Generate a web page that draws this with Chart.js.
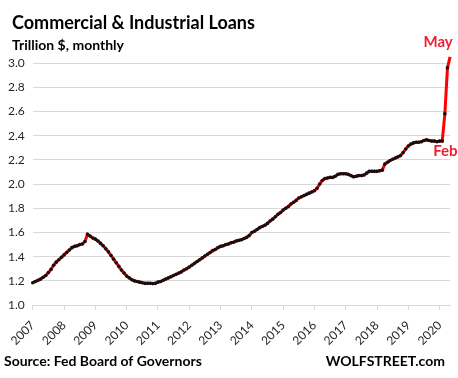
<!DOCTYPE html>
<html>
<head>
<meta charset="utf-8">
<script src="https://cdn.jsdelivr.net/npm/chart.js@4/dist/chart.umd.min.js"></script>
<style>
  html, body { margin: 0; padding: 0; background: #fff; }
  #wrap { width: 458px; height: 378px; position: relative; }
</style>
</head>
<body>
<div id="wrap"><canvas id="chart"></canvas></div>
<script>
"use strict";

// monthly, Jan 2007 .. May 2020
const YEARS = [2007, 2008, 2009, 2010, 2011, 2012, 2013, 2014, 2015, 2016, 2017, 2018, 2019, 2020];
const LAST_YEAR_MONTHS = 5;

// Trillion $
const LOANS = [
  // 2007
  1.185, 1.195, 1.205, 1.215, 1.23, 1.245, 1.27, 1.295, 1.33, 1.355, 1.375, 1.395,
  // 2008
  1.415, 1.435, 1.455, 1.475, 1.485, 1.49, 1.5, 1.505, 1.525, 1.585, 1.57, 1.555,
  // 2009
  1.545, 1.53, 1.51, 1.49, 1.465, 1.44, 1.41, 1.38, 1.35, 1.32, 1.29, 1.265,
  // 2010
  1.24, 1.225, 1.21, 1.2, 1.195, 1.19, 1.185, 1.18, 1.18, 1.18, 1.178, 1.18,
  // 2011
  1.19, 1.195, 1.205, 1.215, 1.225, 1.235, 1.245, 1.255, 1.265, 1.275, 1.29, 1.3,
  // 2012
  1.315, 1.33, 1.345, 1.36, 1.375, 1.39, 1.405, 1.42, 1.435, 1.45, 1.46, 1.475,
  // 2013
  1.485, 1.49, 1.5, 1.505, 1.515, 1.52, 1.53, 1.535, 1.54, 1.55, 1.56, 1.575,
  // 2014
  1.6, 1.61, 1.625, 1.64, 1.65, 1.66, 1.675, 1.695, 1.71, 1.73, 1.75, 1.765,
  // 2015
  1.785, 1.8, 1.815, 1.835, 1.85, 1.865, 1.885, 1.895, 1.905, 1.915, 1.925, 1.935,
  // 2016
  1.945, 1.965, 2.0, 2.03, 2.045, 2.05, 2.055, 2.055, 2.065, 2.08, 2.085, 2.085,
  // 2017
  2.085, 2.08, 2.07, 2.06, 2.065, 2.07, 2.07, 2.075, 2.09, 2.105, 2.105, 2.105,
  // 2018
  2.105, 2.11, 2.115, 2.165, 2.18, 2.195, 2.205, 2.215, 2.225, 2.235, 2.26, 2.29,
  // 2019
  2.315, 2.33, 2.34, 2.345, 2.345, 2.35, 2.36, 2.365, 2.36, 2.355, 2.355, 2.35,
  // 2020
  2.355, 2.355, 2.58, 2.96, 3.05,
];

const Y_TICKS = [1.0, 1.2, 1.4, 1.6, 1.8, 2.0, 2.2, 2.4, 2.6, 2.8, 3.0];

const TITLE = "Commercial & Industrial Loans";
const SUBTITLE = "Trillion $, monthly";
const SOURCE = "Source: Fed Board of Governors";
const BRAND = "WOLFSTREET.com";
const NOTE_FEB = { label: "Feb", index: 157 };
const NOTE_MAY = { label: "May", index: 160 };

const FONT = "Lato, 'Open Sans', sans-serif";
const RED = "#ff0000";
const NOTE_RED = "#f01e32";
const GRID = "#d9d9d9";
const INK = "#262626";

const monthLabels = [];
YEARS.forEach((y, yi) => {
  const n = yi === YEARS.length - 1 ? LAST_YEAR_MONTHS : 12;
  for (let m = 1; m <= n; m++) monthLabels.push(`${y}-${String(m).padStart(2, "0")}`);
});

const textPlugin = {
  id: "wolfText",
  afterDraw(c) {
    const ctx = c.ctx;
    ctx.save();
    ctx.textBaseline = "alphabetic";
    ctx.fillStyle = "#000";
    ctx.textAlign = "left";
    ctx.font = `bold 18px ${FONT}`;
    ctx.fillText(TITLE, 12, 29);
    ctx.font = `bold 14px ${FONT}`;
    ctx.fillText(SUBTITLE, 12, 50);
    ctx.fillText(SOURCE, 4, 366);
    ctx.textAlign = "right";
    ctx.fillText(BRAND, 445, 366);

    const meta = c.getDatasetMeta(0);
    const may = meta.data[NOTE_MAY.index];
    const feb = meta.data[NOTE_FEB.index];
    ctx.fillStyle = NOTE_RED;
    ctx.font = `bold 15px ${FONT}`;
    ctx.textAlign = "center";
    ctx.fillText(NOTE_MAY.label, may.x - 12, may.y - 10);
    ctx.textAlign = "left";
    ctx.fillText(NOTE_FEB.label, feb.x - 9, feb.y + 15);
    ctx.restore();
  },
};

new Chart(document.getElementById("chart"), {
  type: "line",
  data: {
    labels: monthLabels,
    datasets: [{
      data: LOANS,
      borderColor: RED,
      borderWidth: 3,
      pointRadius: 1.8,
      pointBackgroundColor: "#111",
      pointBorderWidth: 0,
      tension: 0,
      clip: false,
    }],
  },
  options: {
    responsive: true,
    maintainAspectRatio: false,
    animation: false,
    layout: { padding: { top: 63, right: 7, bottom: 22, left: 0 } },
    scales: {
      x: {
        offset: false,
        grid: { display: true, drawOnChartArea: false, drawTicks: true, tickLength: 5, color: GRID },
        border: { display: true, color: GRID },
        ticks: {
          autoSkip: false,
          maxRotation: 45,
          minRotation: 45,
          padding: 8,
          color: INK,
          font: { family: FONT, size: 12 },
          callback(value, i) {
            return i % 12 === 0 ? this.getLabelForValue(value).slice(0, 4) : null;
          },
        },
      },
      y: {
        min: Y_TICKS[0],
        max: Y_TICKS[Y_TICKS.length - 1],
        afterBuildTicks(scale) { scale.ticks = Y_TICKS.map((v) => ({ value: v })); },
        grid: { color: GRID, drawTicks: false },
        border: { display: false },
        ticks: {
          padding: 8,
          color: INK,
          font: { family: FONT, size: 12 },
          callback: (v) => Number(v).toFixed(1),
        },
      },
    },
    plugins: {
      legend: { display: false },
      tooltip: { enabled: false },
    },
  },
  plugins: [textPlugin],
});
</script>
</body>
</html>
